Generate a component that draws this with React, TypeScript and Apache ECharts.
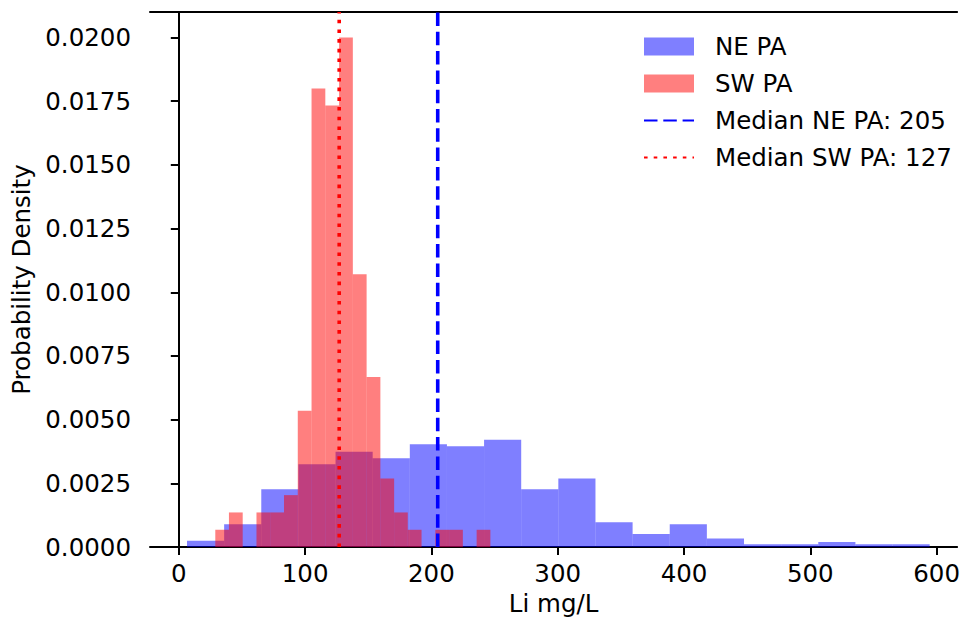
import React, { useEffect, useRef } from "react";
import * as echarts from "echarts";

// NE PA histogram (density)
const neEdges = [6.5, 35.9, 65.3, 94.7, 124.1, 153.5, 182.9, 212.3, 241.7, 271.1, 300.5, 329.9, 359.3, 388.7, 418.1, 447.5, 476.9, 506.3, 535.7, 565.1, 594.5];
const neDensity = [0.00025, 0.0009, 0.00227, 0.00325, 0.00374, 0.00349, 0.00404, 0.00396, 0.00421, 0.00227, 0.00269, 0.00098, 0.00051, 0.0009, 0.00034, 0.000115, 0.000115, 0.0002, 0.000115, 0.000115];

// SW PA histogram (density)
const swEdges = [28.9, 39.7, 50.6, 61.5, 72.4, 83.3, 94.2, 105.1, 116.0, 126.9, 137.8, 148.7, 159.6, 170.5, 181.3, 192.2, 203.1, 214.0, 224.9, 235.8, 246.7];
const swDensity = [0.00068, 0.00136, 0, 0.00136, 0.00136, 0.00204, 0.00535, 0.018, 0.01733, 0.02, 0.01071, 0.00668, 0.00269, 0.00136, 0.00068, 0, 0.00068, 0.00068, 0, 0.00068];

const medianNE = 205;
const medianSW = 127;

const xTicks = [0, 100, 200, 300, 400, 500, 600];
const yTicks = [0, 0.0025, 0.005, 0.0075, 0.01, 0.0125, 0.015, 0.0175, 0.02];

const FONT = "DejaVu Sans";
const FS = 24.5;

export default function App() {
  const ref = useRef<HTMLDivElement>(null);

  useEffect(() => {
    const chart = echarts.init(ref.current!, null, { renderer: "svg" });

    const toBins = (edges: number[], dens: number[]) =>
      dens.map((d, i) => [edges[i], edges[i + 1], d]);

    const histRender = (color: string) => (params: any, api: any) => {
      const x0 = api.value(0);
      const x1 = api.value(1);
      const y = api.value(2);
      const p0 = api.coord([x0, y]);
      const p1 = api.coord([x1, 0]);
      return {
        type: "rect",
        shape: { x: p0[0], y: p0[1], width: p1[0] - p0[0], height: p1[1] - p0[1] },
        style: { fill: color },
      };
    };

    const neName = "NE PA";
    const swName = "SW PA";
    const medNEName = `Median NE PA: ${medianNE}`;
    const medSWName = `Median SW PA: ${medianSW}`;
    const hiddenSymbol = { color: "rgba(0,0,0,0)", borderWidth: 0, opacity: 0 };

    const axisLineStyle = { color: "#000", width: 2 };
    const xMin = -22.8;
    const xMax = 616.25;

    chart.setOption({
      animation: false,
      textStyle: { fontFamily: FONT },
      grid: {
        left: 150,
        top: 12,
        right: 0,
        bottom: 73,
      },
      legend: {
        orient: "vertical",
        left: 643,
        top: 34,
        padding: 0,
        itemWidth: 50,
        itemHeight: 18,
        itemGap: 12,
        textStyle: { fontSize: FS, color: "#000", fontFamily: FONT, padding: [0, 0, 0, 16] },
        data: [
          { name: neName, icon: "rect" },
          { name: swName, icon: "rect" },
          { name: medNEName, itemStyle: hiddenSymbol },
          { name: medSWName, itemStyle: hiddenSymbol },
        ],
      },
      xAxis: [
        {
          type: "value",
          min: xMin,
          max: xMax,
          name: "Li mg/L",
          nameLocation: "middle",
          nameGap: 42,
          nameTextStyle: { fontSize: FS, color: "#000", fontFamily: FONT },
          axisLine: { show: true, onZero: false, lineStyle: axisLineStyle },
          axisTick: { show: true, length: 8, lineStyle: axisLineStyle, customValues: xTicks },
          axisLabel: { fontSize: FS, color: "#000", margin: 14, fontFamily: FONT, customValues: xTicks },
          splitLine: { show: false },
        },
        {
          type: "value",
          position: "top",
          min: xMin,
          max: xMax,
          axisLine: { show: true, onZero: false, lineStyle: axisLineStyle },
          axisTick: { show: false },
          axisLabel: { show: false },
          splitLine: { show: false },
        },
      ],
      yAxis: {
        type: "value",
        min: 0,
        max: 0.021,
        name: "Probability Density",
        nameLocation: "middle",
        nameGap: 112,
        nameTextStyle: { fontSize: FS, color: "#000", fontFamily: FONT },
        axisLine: { show: true, lineStyle: axisLineStyle },
        axisTick: { show: true, length: 8, lineStyle: axisLineStyle, customValues: yTicks },
        axisLabel: {
          fontSize: FS,
          color: "#000",
          margin: 19,
          fontFamily: FONT,
          customValues: yTicks,
          formatter: (v: number) => v.toFixed(4),
        },
        splitLine: { show: false },
      },
      series: [
        {
          name: neName,
          type: "custom",
          renderItem: histRender("rgba(0,0,255,0.5)"),
          itemStyle: { color: "rgba(0,0,255,0.5)" },
          encode: { x: [0, 1], y: 2 },
          data: toBins(neEdges, neDensity),
          z: 1,
        },
        {
          name: swName,
          type: "custom",
          renderItem: histRender("rgba(255,0,0,0.5)"),
          itemStyle: { color: "rgba(255,0,0,0.5)" },
          encode: { x: [0, 1], y: 2 },
          data: toBins(swEdges, swDensity),
          z: 2,
        },
        {
          name: medNEName,
          type: "line",
          symbol: "none",
          showSymbol: false,
          lineStyle: { color: "#0000ff", width: 3.6, type: [13.5, 5.8], cap: "butt" },
          itemStyle: { color: "#0000ff" },
          data: [[medianNE, 0], [medianNE, 0.021]],
          z: 3,
        },
        {
          name: medSWName,
          type: "line",
          symbol: "none",
          showSymbol: false,
          lineStyle: { color: "#ff0000", width: 3.6, type: [3.6, 6.1], cap: "butt" },
          itemStyle: { color: "#ff0000" },
          data: [[medianSW, 0], [medianSW, 0.021]],
          z: 3,
        },
      ],
    });

    return () => chart.dispose();
  }, []);

  return (
    <div
      ref={ref}
      style={{ position: "fixed", left: 0, top: 0, width: 963, height: 621, background: "#fff" }}
    />
  );
}
